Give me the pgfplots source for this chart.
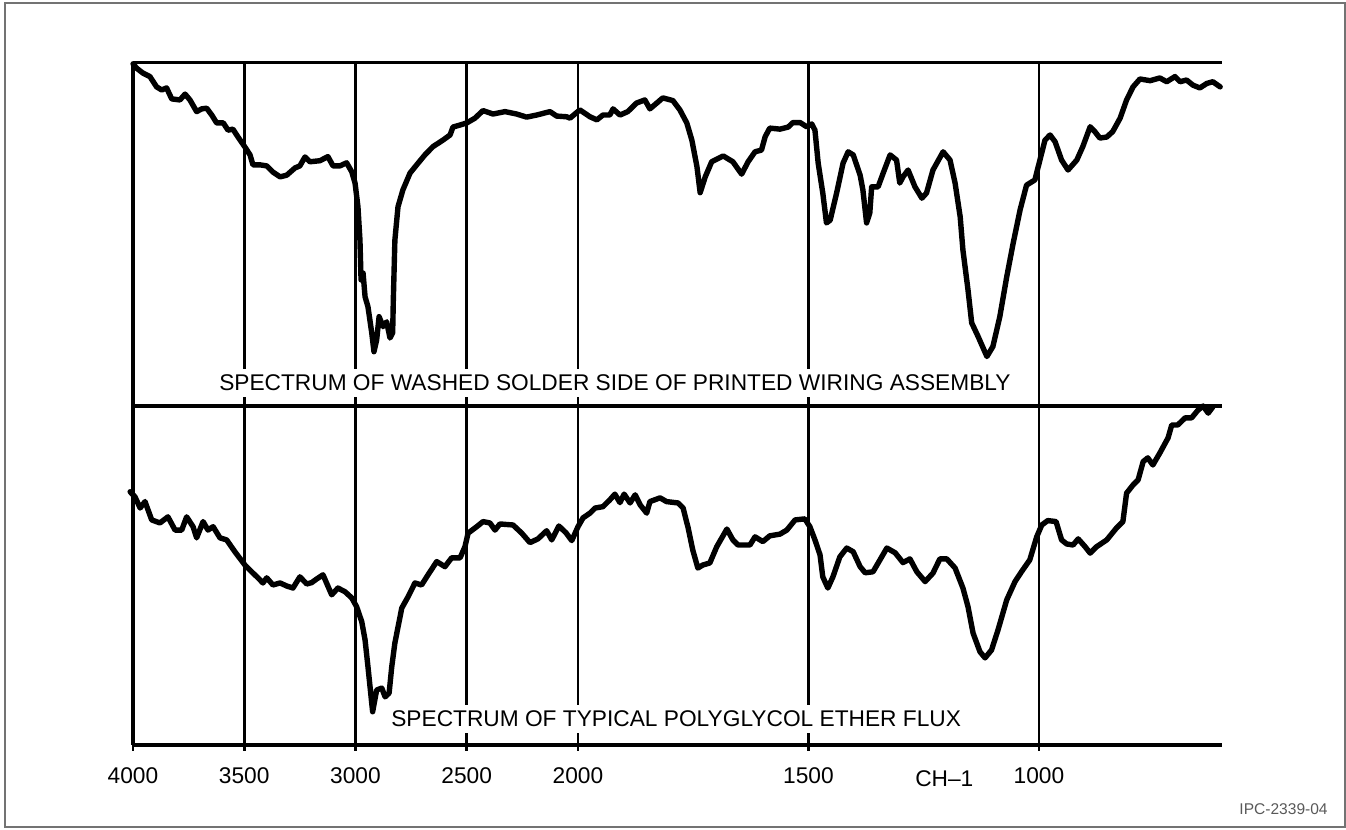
\documentclass[border=0pt]{standalone}
\usepackage{fontspec}
\setmainfont{Liberation Sans}
\usepackage{pgfplots}
\pgfplotsset{compat=1.18}
\pgfplotsset{
  irbase/.style={
    scale only axis, width=544.5bp,
    x coord trafo/.code={\pgfmathparse{##1>=2000 ? (4000-##1)*0.2225 : 445+(2000-##1)*0.461}},
    xmin=4000, xmax=603, ymin=0, ymax=100,
    ytick=\empty,
    axis lines=left,
    axis line style={line width=1.9bp, -},
    xtick={4000,3500,3000,2500,2000,1500,1000},
    xmajorgrids,
    major grid style={line width=1.4bp, black},
    clip=false,
  },
  spec/.style={line width=2.7bp, black, line join=round, line cap=round, mark=none},
}
\begin{document}
\begin{tikzpicture}
\useasboundingbox (0,0) rectangle (673bp,415bp);
\draw[line width=0.7bp, draw=black!55] (2.5bp,1.5bp) rectangle (672.5bp,413.5bp);

% ---------------- top spectrum ----------------
\begin{axis}[irbase, at={(66.5bp,212bp)}, anchor=south west, height=171.75bp,
  xticklabels={}, major tick length=0pt]
\addplot[spec] table {
4000 99.6
3983 98.3
3955 96.9
3924 95.9
3894 92.9
3871 92.0
3849 92.6
3826 89.4
3789 89.1
3766 90.8
3744 89.1
3714 85.7
3691 86.5
3669 86.7
3646 84.7
3624 82.4
3594 82.4
3573 80.3
3551 80.6
3528 78.3
3497 75.4
3474 73.1
3461 70.2
3429 70.2
3399 69.9
3371 68.1
3339 66.7
3309 67.2
3272 69.3
3250 69.9
3227 72.5
3205 71.1
3160 71.4
3124 72.6
3101 69.9
3070 69.9
3040 70.8
3017 68.2
3002 64.9
2989 58.0
2980 48.3
2975 36.7
2966 38.7
2957 31.8
2944 28.9
2927 21.3
2917 15.8
2905 19.2
2894 26.0
2876 23.1
2860 24.5
2845 19.8
2833 21.3
2830 30.9
2823 48.3
2809 58.0
2787 62.9
2755 67.8
2725 70.2
2688 73.1
2652 75.5
2607 77.4
2575 78.9
2562 81.2
2530 81.8
2500 82.4
2463 83.8
2427 86.0
2382 85.0
2328 85.7
2276 85.0
2231 84.1
2186 84.7
2126 85.7
2096 84.4
2051 84.2
2036 83.8
1996 86.2
1974 84.2
1959 83.3
1946 84.7
1931 84.7
1924 86.5
1909 84.7
1892 85.7
1873 88.2
1855 89.1
1844 86.5
1829 88.2
1816 89.7
1794 88.9
1779 86.2
1764 82.4
1753 77.4
1742 69.7
1735 62.1
1724 66.7
1710 71.1
1685 72.8
1664 71.1
1645 67.5
1631 71.1
1616 74.0
1602 74.5
1594 78.4
1584 80.9
1562 80.6
1544 81.2
1534 82.5
1518 82.5
1504 81.3
1493 82.1
1486 80.3
1479 70.7
1469 62.0
1461 53.3
1453 54.1
1439 62.0
1425 70.7
1414 74.0
1403 73.1
1388 67.2
1382 62.9
1374 53.3
1367 56.2
1363 63.8
1349 63.8
1338 67.8
1323 73.1
1309 71.6
1302 64.9
1295 66.7
1284 68.7
1269 63.8
1254 60.5
1244 62.0
1230 68.7
1208 74.0
1193 71.6
1182 64.9
1171 55.1
1165 45.4
1154 33.8
1146 24.2
1132 20.2
1113 14.4
1100 17.3
1085 26.0
1070 37.6
1056 47.4
1041 57.1
1027 64.3
1009 65.8
998 71.6
987 77.4
976 78.9
965 76.9
951 71.6
937 68.7
918 71.6
905 75.5
889 81.3
879 79.9
868 78.0
853 78.3
840 79.9
824 83.8
810 89.1
796 92.9
781 95.2
759 94.7
738 95.5
723 94.4
705 95.9
694 94.4
680 94.9
666 93.4
651 92.6
636 93.9
623 94.4
607 92.9
};
\draw[line width=1.9bp] (rel axis cs:0,1) -- (rel axis cs:1,1);
\node[anchor=west, fill=white, inner xsep=1bp, inner ysep=3bp,
  font=\fontsize{11.4}{13}\selectfont] at (rel axis cs:0.077,0.067)
  {SPECTRUM OF WASHED SOLDER SIDE OF PRINTED WIRING ASSEMBLY};
\end{axis}

% ---------------- bottom spectrum ----------------
\begin{axis}[irbase, at={(66.5bp,42.5bp)}, anchor=south west, height=169.5bp,
  xticklabels={\mbox{4000},\mbox{3500},\mbox{3000},\mbox{2500},\mbox{2000},\mbox{1500},\mbox{1000}},
  tick align=outside, major tick length=3bp,
  tick style={line width=1.4bp, black},
  xticklabel style={font=\fontsize{11.4}{13}\selectfont, yshift=-5bp}]
\addplot[spec] table {
4013 74.7
3991 73.2
3968 69.9
3946 71.8
3916 66.4
3879 65.5
3843 67.3
3811 63.4
3781 63.4
3759 67.3
3730 64.4
3714 61.1
3685 65.9
3663 63.4
3640 64.4
3609 61.1
3579 60.5
3542 57.0
3497 53.1
3467 51.1
3438 49.3
3416 47.8
3399 49.3
3371 47.2
3339 47.8
3309 46.9
3281 46.3
3250 49.6
3219 47.5
3197 47.9
3174 49.0
3146 50.2
3107 44.3
3079 46.3
3047 45.2
3017 43.4
2995 40.8
2972 36.4
2957 31.0
2944 23.1
2923 9.8
2905 16.2
2882 16.8
2867 14.2
2849 15.3
2837 23.1
2823 30.1
2792 40.4
2764 43.7
2733 47.8
2703 47.2
2674 50.2
2635 54.1
2598 52.6
2568 55.2
2530 55.2
2508 58.5
2494 62.5
2455 64.4
2427 65.9
2396 65.5
2373 63.4
2351 65.2
2292 64.9
2253 62.5
2216 59.7
2180 60.8
2141 63.2
2118 60.5
2086 64.6
2054 62.6
2028 60.3
2000 64.4
1989 67.0
1974 68.4
1963 69.9
1946 70.3
1931 72.3
1920 74.0
1909 71.5
1900 74.0
1887 71.4
1876 73.8
1865 70.8
1851 68.4
1844 71.8
1822 72.9
1808 71.8
1783 71.4
1772 69.9
1761 64.0
1751 57.5
1740 52.2
1729 53.1
1714 53.7
1699 58.5
1677 63.7
1664 60.5
1653 59.0
1627 59.0
1616 61.4
1599 60.0
1584 61.7
1562 62.2
1547 63.4
1529 66.4
1508 66.7
1497 64.4
1486 60.5
1475 56.1
1469 49.6
1458 46.3
1447 49.6
1432 55.5
1417 58.1
1403 57.0
1388 52.6
1377 50.8
1360 51.1
1345 54.6
1330 58.1
1312 56.7
1295 53.8
1280 54.9
1265 51.1
1247 48.2
1230 50.7
1215 54.9
1200 54.9
1182 52.2
1165 46.3
1154 40.8
1143 33.0
1128 27.5
1117 25.7
1103 28.0
1089 33.9
1070 42.8
1052 48.2
1038 51.1
1020 54.6
1005 61.4
994 64.9
981 66.2
963 65.9
951 60.5
940 59.3
926 59.0
915 60.8
900 58.5
889 56.6
875 58.5
853 60.5
832 64.0
818 65.9
810 74.3
796 76.7
785 78.2
774 83.6
764 84.7
753 82.6
738 86.1
720 90.6
712 94.4
699 94.4
683 96.5
669 96.5
655 98.8
644 100.0
633 97.9
623 99.7
};
\node[anchor=west, fill=white, inner xsep=1bp, inner ysep=3bp,
  font=\fontsize{11.4}{13}\selectfont] at (rel axis cs:0.235,0.077)
  {SPECTRUM OF TYPICAL POLYGLYCOL ETHER FLUX};
\node[anchor=north, inner sep=0pt, font=\fontsize{11.4}{13}\selectfont]
  at ([yshift=-12.5bp]rel axis cs:0.745,0) {CH--1};
\end{axis}

\node[anchor=east, inner sep=0pt, text=black!65, font=\fontsize{7.8}{9}\selectfont]
  at (664bp,10.5bp) {IPC-2339-04};
\end{tikzpicture}
\end{document}
